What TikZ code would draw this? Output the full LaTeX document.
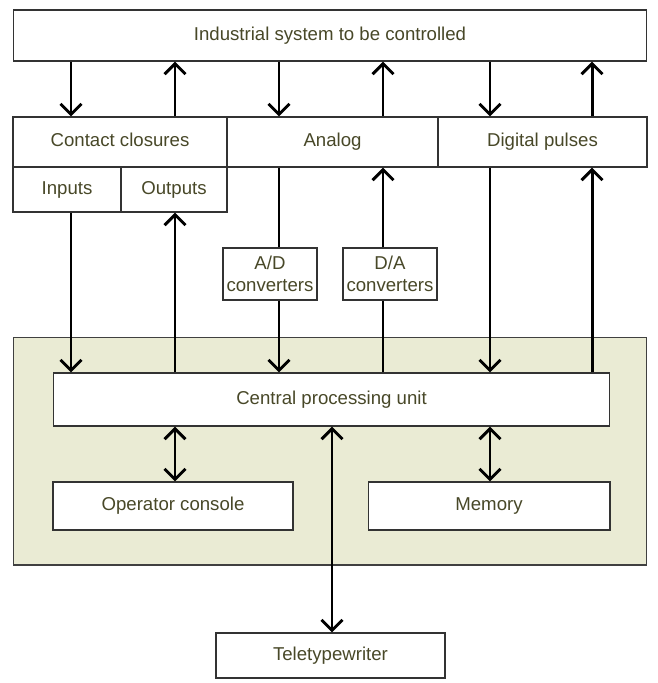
\documentclass[tikz,border=0pt]{standalone}
\usepackage{fontspec}
\setmainfont{Liberation Sans}
\usetikzlibrary{arrows.meta}
\definecolor{inkolive}{RGB}{72,72,40}
\definecolor{panel}{RGB}{234,235,212}

\begin{document}
\begin{tikzpicture}[x=0.02cm, y=-0.02cm]
\tikzstyle{box}=[draw=black!80, line width=0.6pt, fill=white, text=inkolive,
                 font=\fontsize{10.6}{12.5}\selectfont, inner sep=0pt, align=center]
\tikzstyle{unit}=[box, text height=7.8pt, text depth=2.2pt]
\tikzstyle{flow}=[line width=1.7pt, -{Straight Barb[length=6pt,width=12pt]}]
\tikzstyle{both}=[line width=1.7pt, {Straight Barb[length=6pt,width=12pt]}-{Straight Barb[length=6pt,width=12pt]}]
\tikzstyle{wire}=[line width=1.7pt]
\useasboundingbox (0,0) rectangle (658,683);

% computer panel
\node[draw=black!75, line width=0.6pt, fill=panel, minimum width=12.68cm, minimum height=4.56cm] (core) at (330,451) {};

\node[unit, minimum width=12.68cm, minimum height=1.02cm] (sys) at (330,35.5) {Industrial system to be controlled};
\node[unit, minimum width=4.28cm, minimum height=1cm] (contact) at (120,142) {Contact closures};
\node[unit, minimum width=4.22cm, minimum height=1cm] (analog) at (332.5,142) {Analog};
\node[unit, minimum width=4.18cm, minimum height=1cm] (digital) at (542.5,142) {Digital pulses};
\node[unit, minimum width=2.16cm, minimum height=0.9cm] (inputs) at (67,189.5) {Inputs};
\node[unit, minimum width=2.12cm, minimum height=0.9cm] (outputs) at (174,189.5) {Outputs};
\node[box, minimum width=1.88cm, minimum height=1.04cm] (ad) at (270,274) {A/D\\converters};
\node[box, minimum width=1.88cm, minimum height=1.04cm] (da) at (390,274) {D/A\\converters};
\node[unit, minimum width=11.14cm, minimum height=1.06cm] (cpu) at (331.5,399.5) {Central processing unit};
\node[unit, minimum width=4.8cm, minimum height=0.96cm] (console) at (173,506) {Operator console};
\node[unit, minimum width=4.84cm, minimum height=0.96cm] (memory) at (489,506) {Memory};
\node[unit, minimum width=4.58cm, minimum height=0.9cm] (tty) at (330.5,655.5) {Teletypewriter};

% signal columns
\coordinate (c1) at (71,0);
\coordinate (c2) at (175,0);
\coordinate (c3) at (279,0);
\coordinate (c4) at (383,0);
\coordinate (c5) at (490,0);
\coordinate (c6) at (592,0);
\coordinate (c7) at (332,0);

\draw[flow] (sys.south -| c1) -- (contact.north -| c1);
\draw[flow] (contact.north -| c2) -- (sys.south -| c2);
\draw[flow] (sys.south -| c3) -- (analog.north -| c3);
\draw[flow] (analog.north -| c4) -- (sys.south -| c4);
\draw[flow] (sys.south -| c5) -- (digital.north -| c5);
\draw[flow] (digital.north -| c6) -- (sys.south -| c6);

\draw[flow] (inputs.south -| c1) -- (cpu.north -| c1);
\draw[flow] (cpu.north -| c2) -- (outputs.south -| c2);
\draw[wire] (analog.south -| c3) -- (ad.north -| c3);
\draw[flow] (ad.south -| c3) -- (cpu.north -| c3);
\draw[wire] (cpu.north -| c4) -- (da.south -| c4);
\draw[flow] (da.north -| c4) -- (analog.south -| c4);
\draw[flow] (digital.south -| c5) -- (cpu.north -| c5);
\draw[flow] (cpu.north -| c6) -- (digital.south -| c6);

\draw[both] (cpu.south -| c2) -- (console.north -| c2);
\draw[both] (cpu.south -| c5) -- (memory.north -| c5);
\draw[both] (cpu.south -| c7) -- (tty.north -| c7);
\end{tikzpicture}
\end{document}
